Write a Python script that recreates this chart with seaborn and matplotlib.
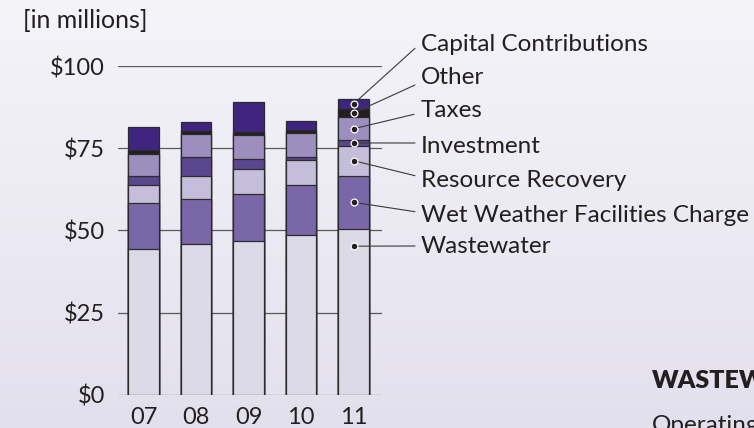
import matplotlib
matplotlib.use("Agg")
import matplotlib.pyplot as plt
import seaborn as sns
import pandas as pd
import numpy as np

# --- datos (millones de dólares) ---
years = ["07", "08", "09", "10", "11"]
categories = ["Wastewater", "Wet Weather Facilities Charge", "Resource Recovery",
              "Investment", "Taxes", "Other", "Capital Contributions"]
wastewater = [44.3, 45.9, 46.8, 48.5, 50.5]
wet_weather = [13.9, 13.7, 14.3, 15.3, 16.1]
resource_recovery = [5.6, 6.8, 7.7, 7.6, 9.2]
investment = [2.7, 5.8, 3.0, 0.9, 1.6]
taxes = [6.6, 7.1, 7.1, 7.2, 7.0]
other = [1.5, 0.8, 1.1, 1.0, 2.6]
capital = [6.9, 2.9, 9.0, 2.8, 3.0]
yticks = [0, 25, 50, 75, 100]
ytick_labels = [r"\$0", r"\$25", r"\$50", r"\$75", r"\$100"]

colors = ["#dddae8", "#7a67a8", "#c5bedb", "#5b4690", "#9c8fbe", "#231f20", "#3f2580"]
edge = "#2b2b2b"
text_color = "#231f20"

W, H = 754, 428


def fx(px):
    return px / W


def fy(py):
    return 1 - py / H


sns.set_theme(style="white")
plt.rcParams['font.family'] = ['Lato', 'DejaVu Sans']

df = pd.DataFrame({
    "year": years,
    categories[0]: wastewater,
    categories[1]: wet_weather,
    categories[2]: resource_recovery,
    categories[3]: investment,
    categories[4]: taxes,
    categories[5]: other,
    categories[6]: capital,
})
cum = df[categories].cumsum(axis=1)
cum["year"] = df["year"]

fig = plt.figure(figsize=(W / 100, H / 100), dpi=100)

# fondo degradado lavanda
bg = fig.add_axes([0, 0, 1, 1], zorder=-10)
top_c = np.array([0.960, 0.957, 0.976])
bot_c = np.array([0.890, 0.878, 0.930])
t = np.linspace(0, 1, 256)[:, None, None]
grad = top_c * (1 - t) + bot_c * t
bg.imshow(np.repeat(grad, 2, axis=1), aspect="auto", extent=[0, 1, 0, 1])
bg.axis("off")

ax = fig.add_axes([fx(118), fy(394.8), fx(382) - fx(118), fy(66) - fy(394.8)])
ax.patch.set_alpha(0)

# barras apiladas: de la suma acumulada mayor a la menor
for i in reversed(range(len(categories))):
    sns.barplot(data=cum, x="year", y=categories[i], color=colors[i], saturation=1,
                width=0.58, edgecolor=edge, linewidth=0.9, errorbar=None,
                ax=ax, zorder=3)

ax.set_xlim(-0.485, 4.54)
ax.set_ylim(0, 100)
ax.set_yticks(yticks)
ax.set_yticklabels(ytick_labels)
ax.set_xticks(range(len(years)))
ax.set_xticklabels(years)
ax.set_xlabel("")
ax.set_ylabel("")
ax.yaxis.grid(True, color="#5a5a5a", linewidth=0.9)
ax.xaxis.grid(False)
ax.set_axisbelow(True)
for s in ax.spines.values():
    s.set_visible(False)
ax.tick_params(axis="y", length=0, pad=9.4, labelsize=17, labelcolor=text_color)
ax.tick_params(axis="x", length=0, pad=8.5, labelsize=17, labelcolor=text_color)

# puntos y etiquetas para el año 11
last = len(years) - 1
vals = [wastewater[last], wet_weather[last], resource_recovery[last], investment[last],
        taxes[last], other[last], capital[last]]
tops = np.cumsum(vals)
bottoms = tops - np.array(vals)
dot_y = (tops + bottoms) / 2
dot_y[0] = tops[0] - 5.3

leader_end = [(415, 246), (415, 211.7), (415, 175.7), (415, 143), (414, 114.3),
              (415, 85), (415, 48.3)]
label_base = [253, 221.7, 186.7, 153.3, 116.7, 84.3, 51]

ax.scatter([last] * len(dot_y), dot_y, s=24, color=text_color, edgecolor="white",
           linewidth=0.9, zorder=6, clip_on=False)
for i, cat in enumerate(categories):
    ex, ey = leader_end[i]
    ax.annotate("", xy=(last, dot_y[i]), xycoords="data",
                xytext=(fx(ex), fy(ey)), textcoords="figure fraction",
                arrowprops=dict(arrowstyle="-", color="#3a3a3a", lw=0.8,
                                shrinkA=0, shrinkB=0),
                annotation_clip=False, zorder=5)
    fig.text(fx(421), fy(label_base[i]), cat, fontsize=17.5, color=text_color,
             ha="left", va="baseline")

fig.text(fx(23), fy(27.5), "[in millions]", fontsize=18, color=text_color,
         ha="left", va="baseline")

# texto de la página recortado en la esquina
fig.text(fx(651.7), fy(388.3), "WASTEWATER", fontsize=18, fontweight="heavy",
         color=text_color, ha="left", va="baseline")
fig.text(fx(651.7), fy(432), "Operating", fontsize=17.5, color=text_color,
         ha="left", va="baseline")

fig.savefig("out.png", dpi=100)
plt.close(fig)
